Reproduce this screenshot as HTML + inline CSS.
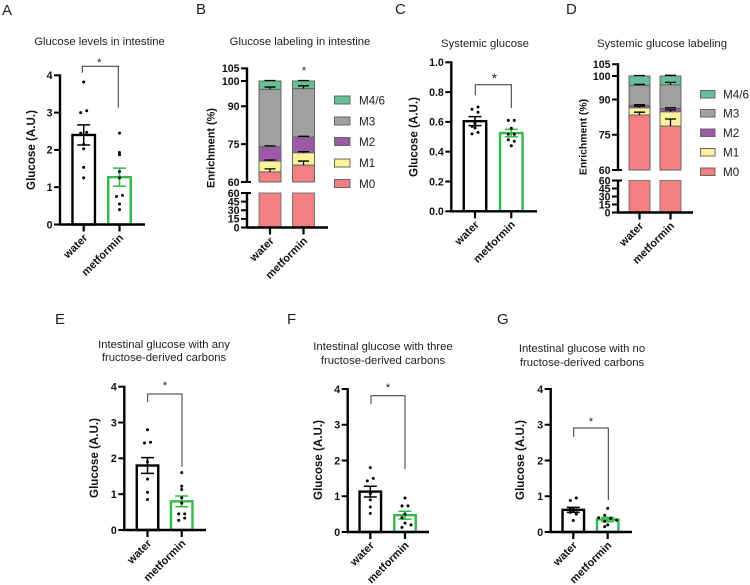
<!DOCTYPE html>
<html>
<head>
<meta charset="utf-8">
<title>Glucose figure</title>
<style>
html,body{margin:0;padding:0;background:#fff;width:750px;height:585px;overflow:hidden}
svg{display:block}
text{font-family:"Liberation Sans",sans-serif}
.letter{font-size:15px;fill:#222}
.title{font-size:11.3px;fill:#222;text-anchor:middle}
.axt{font-size:11.6px;font-weight:bold;fill:#111;text-anchor:middle}
.leg{font-size:11.7px;fill:#222}
</style>
</head>
<body>
<svg id="fig" width="750" height="585" viewBox="0 0 750 585" xmlns="http://www.w3.org/2000/svg">
<text class="letter" x="2" y="15">A</text>
<text class="letter" x="196" y="14">B</text>
<text class="letter" x="395" y="14">C</text>
<text class="letter" x="566" y="14">D</text>
<text class="letter" x="55" y="324">E</text>
<text class="letter" x="287" y="324">F</text>
<text class="letter" x="497" y="324">G</text>

<text class="title" x="99.5" y="45">Glucose levels in intestine</text>
<text class="title" x="300" y="45">Glucose labeling in intestine</text>
<text class="title" x="485" y="47">Systemic glucose</text>
<text class="title" x="662" y="47">Systemic glucose labeling</text>
<text class="title" x="164" y="348">Intestinal glucose with any</text>
<text class="title" x="164" y="361">fructose-derived carbons</text>
<text class="title" x="383" y="350">Intestinal glucose with three</text>
<text class="title" x="383" y="364">fructose-derived carbons</text>
<text class="title" x="582" y="352">Intestinal glucose with no</text>
<text class="title" x="582" y="366">fructose-derived carbons</text>

<text class="axt" transform="translate(35,150) rotate(-90)">Glucose (A.U.)</text>
<text class="axt" style="font-size:10.9px" transform="translate(214.5,148) rotate(-90)">Enrichment (%)</text>
<text class="axt" transform="translate(417.5,137) rotate(-90)">Glucose (A.U.)</text>
<text class="axt" style="font-size:10.4px" transform="translate(586.5,137) rotate(-90)">Enrichment (%)</text>
<text class="axt" transform="translate(98,458) rotate(-90)">Glucose (A.U.)</text>
<text class="axt" transform="translate(322,460) rotate(-90)">Glucose (A.U.)</text>
<text class="axt" transform="translate(524,460) rotate(-90)">Glucose (A.U.)</text>

<g>
<rect x="334.5" y="96" width="15.5" height="8" fill="#66c096" stroke="#666"/>
<text class="leg" x="359" y="104.5">M4/6</text>
<rect x="334.5" y="117" width="15.5" height="8" fill="#a0a0a0" stroke="#666"/>
<text class="leg" x="359" y="125.5">M3</text>
<rect x="334.5" y="137.5" width="15.5" height="8" fill="#9b59a6" stroke="#666"/>
<text class="leg" x="359" y="146">M2</text>
<rect x="334.5" y="159" width="15.5" height="8" fill="#fbf39b" stroke="#666"/>
<text class="leg" x="359" y="167">M1</text>
<rect x="334.5" y="179.5" width="15.5" height="8" fill="#f47f83" stroke="#666"/>
<text class="leg" x="359" y="188">M0</text>
</g>
<g>
<rect x="700.5" y="90.5" width="14.5" height="7.5" fill="#66c096" stroke="#666"/>
<text class="leg" x="723" y="98.5">M4/6</text>
<rect x="700.5" y="109.5" width="14.5" height="7.5" fill="#a0a0a0" stroke="#666"/>
<text class="leg" x="723" y="117.5">M3</text>
<rect x="700.5" y="129" width="14.5" height="7.5" fill="#9b59a6" stroke="#666"/>
<text class="leg" x="723" y="137">M2</text>
<rect x="700.5" y="148.5" width="14.5" height="7.5" fill="#fbf39b" stroke="#666"/>
<text class="leg" x="723" y="156.5">M1</text>
<rect x="700.5" y="168" width="14.5" height="7.5" fill="#f47f83" stroke="#666"/>
<text class="leg" x="723" y="176">M0</text>
</g>
</svg>
<script>
const categories = ['water', 'metformin'];
const seriesColors = ['#f47f83', '#fbf39b', '#9b59a6', '#a0a0a0', '#66c096'];

const ticksFour = [0, 1, 2, 3, 4];
const ticksOne = ['0.0', '0.2', '0.4', '0.6', '0.8', '1.0'];
const ticksUpper = [60, 75, 90, 100, 105];
const ticksLower = [0, 15, 30, 45, 60];

const aMeans = [2.4, 1.27];
const aSems = [0.27, 0.24];
const aWater = [3.82, 3.0, 3.05, 2.45, 2.47, 2.15, 2.03, 1.53, 1.25];
const aWaterSlots = [0, -1, 1, -1, 1, 0, 0, 0, 0];
const aMet = [2.45, 1.93, 1.87, 1.42, 1.25, 0.78, 0.75, 0.55, 0.4];
const aMetSlots = [0, 0, 0, 0, 0, 1, -1, 0, 0];

const cMeans = [0.605, 0.525];
const cSems = [0.03, 0.025];
const cWater = [0.685, 0.7, 0.665, 0.59, 0.57, 0.56, 0.53, 0.52];
const cWaterSlots = [-1, 1, 1, 0, -1, 0, 1, -1];
const cMet = [0.61, 0.61, 0.557, 0.517, 0.517, 0.48, 0.47, 0.44];
const cMetSlots = [-1, 1, 0, -1, 1, -1, 1, 0];

const eMeans = [1.8, 0.8];
const eSems = [0.22, 0.15];
const eWater = [2.8, 2.43, 2.45, 1.9, 1.42, 1.05, 0.85];
const eWaterSlots = [0, -1, 1, 0, 0, 0, 0];
const eMet = [1.6, 1.22, 1.13, 0.9, 0.75, 0.45, 0.45, 0.33, 0.27];
const eMetSlots = [0, 0, 0, 0, 0, -1, 1, 1, -1];

const fMeans = [1.13, 0.47];
const fSems = [0.15, 0.11];
const fWater = [1.8, 1.5, 1.43, 1.07, 0.9, 0.7, 0.52];
const fWaterSlots = [0, 1, -1, 0, 0, 0, 0];
const fMet = [0.95, 0.73, 0.73, 0.5, 0.4, 0.25, 0.2, 0.13];
const fMetSlots = [0, -1, 1, 0, -1, 0, 2, -1];

const gMeans = [0.62, 0.35];
const gSems = [0.07, 0.06];
const gWater = [0.95, 0.88, 0.65, 0.62, 0.6, 0.55, 0.5, 0.32];
const gWaterSlots = [1, -1, -1, 1, 0, -1, 1, 0];
const gMet = [0.66, 0.47, 0.4, 0.38, 0.33, 0.3, 0.2, 0.15];
const gMetSlots = [0, -1, -3, 1, 3, -1, 0, -1];

const bWaterSegments = [64, 4.3, 5.7, 22.7, 3.3];
const bWaterErrors = [1.2, 0.4, 0.3, 0.9, 0.2];
const bMetSegments = [66.7, 4.9, 6.2, 19.2, 3];
const bMetErrors = [1.6, 0.4, 0.3, 1.1, 0.2];

const dWaterSegments = [83.4, 3.1, 1, 8.5, 4];
const dWaterErrors = [1.2, 0.7, 0.3, 0.4, 0.2];
const dMetSegments = [78.7, 6.1, 1.4, 10, 3.8];
const dMetErrors = [3, 0.8, 0.3, 1.1, 0.3];

const svg = document.getElementById('fig');
const NS = 'http://www.w3.org/2000/svg';

function mk(parent, tag, attrs, txt) {
  const el = document.createElementNS(NS, tag);
  for (const k in attrs) el.setAttribute(k, attrs[k]);
  if (txt !== undefined) el.textContent = txt;
  parent.appendChild(el);
  return el;
}
function line(parent, x1, y1, x2, y2, stroke, w) {
  return mk(parent, 'line', { x1, y1, x2, y2, stroke, 'stroke-width': w });
}
function xAxis(g, ax, y0, xEnd, centers) {
  const axis = line(g, ax - 1, y0, xEnd, y0, '#000', 2.4);
  
  
  categories.forEach((c, i) => {
    const tick = line(g, centers[i], y0, centers[i], y0 + 7, '#000', 2.2);
    
    
    const lx = centers[i] + 4.5, ly = y0 + 14;
    const t = mk(g, 'text', {
      x: lx, y: ly, 'text-anchor': 'end', 'font-size': 11, 'font-weight': 'bold', fill: '#111',
      transform: 'rotate(-45 ' + lx + ' ' + ly + ')'
    }, c);
    
    
  });
}
function yTick(g, ax, y, label, right) {
  const tick = line(g, ax - 6, y, right ? ax + right : ax, y, '#000', 2);
  
  
  const t = mk(g, 'text', {
    x: ax - 7.5, y: y + 3.8, 'text-anchor': 'end', 'font-size': 10.6, 'font-weight': 'bold', fill: '#111'
  }, label);
  
  
}
function bracket(g, b) {
  const p = mk(g, 'path', {
    d: 'M' + b.l + ' ' + b.lb + 'V' + b.top + 'H' + b.r + 'V' + b.rb,
    fill: 'none', stroke: '#333', 'stroke-width': 1
  });
  
  
  const s = mk(g, 'text', { x: b.sx, y: b.sy + (b.big ? 6 : 4), 'text-anchor': 'middle', 'font-size': b.big ? 14 : 11, fill: '#222' }, '*');
  
  
}
function barPanel(cfg) {
  const g = mk(svg, 'g', {});
  
  
  const maxV = cfg.max;
  const y = v => cfg.y0 + (cfg.yTop - cfg.y0) * v / maxV;
  const colors = ['#000', '#33b84a'];
  categories.forEach((c, i) => {
    const cx = cfg.centers[i];
    const bar = mk(g, 'rect', {
      x: cx - cfg.barW / 2, y: y(cfg.means[i]), width: cfg.barW, height: cfg.y0 - y(cfg.means[i]),
      fill: '#fff', stroke: colors[i], 'stroke-width': 2.4
    });
    
    
  });
  categories.forEach((c, i) => {
    const cx = cfg.centers[i];
    const top = cfg.means[i] + cfg.sems[i], bot = cfg.means[i] - cfg.sems[i];
    const eb = mk(g, 'path', {
      d: 'M' + (cx - 6.5) + ' ' + y(top) + 'H' + (cx + 6.5) + 'M' + cx + ' ' + y(top) + 'V' + y(bot) +
         'M' + (cx - 6.5) + ' ' + y(bot) + 'H' + (cx + 6.5),
      fill: 'none', stroke: colors[i], 'stroke-width': 1.5
    });
    
    
    const pts = cfg.points[i], slots = cfg.slots[i];
    pts.forEach((v, j) => {
      const dot = mk(g, 'circle', { cx: cx + slots[j] * 3, cy: y(v), r: 1.5, fill: '#000' });
      
      
    });
  });
  const yax = line(g, cfg.ax, y(maxV) - 1, cfg.ax, cfg.y0 + 1, '#000', 2.4);
  
  
  cfg.ticks.forEach(t => yTick(g, cfg.ax, y(+t), String(t)));
  xAxis(g, cfg.ax, cfg.y0, cfg.xEnd, cfg.centers);
  if (cfg.bracket) bracket(g, cfg.bracket);
}
function stackPanel(cfg) {
  const g = mk(svg, 'g', {});
  
  
  const yUp = v => cfg.up60 + (cfg.up100 - cfg.up60) * (v - 60) / 40;
  const yLow = v => cfg.y0 + (cfg.low60 - cfg.y0) * v / 60;
  cfg.centers.forEach((cx, i) => {
    const segs = cfg.segments[i], errs = cfg.errors[i];
    const x = cx - cfg.barW / 2;
    const low = mk(g, 'rect', {
      x, y: cfg.low60, width: cfg.barW, height: cfg.y0 - cfg.low60,
      fill: seriesColors[0], stroke: '#777', 'stroke-width': 1
    });
    
    
    let base = 60, cum = 0;
    segs.forEach((s, k) => {
      cum += s;
      const seg = mk(g, 'rect', {
        x, y: yUp(cum), width: cfg.barW, height: yUp(base) - yUp(cum),
        fill: seriesColors[k], stroke: '#666', 'stroke-width': 1
      });
      
      
      base = cum;
    });
    cum = 0;
    segs.forEach((s, k) => {
      cum += s;
      const capY = yUp(cum + errs[k]);
      const eb = mk(g, 'path', {
        d: 'M' + cx + ' ' + yUp(cum) + 'V' + capY + 'M' + (cx - 5.5) + ' ' + capY + 'H' + (cx + 5.5),
        fill: 'none', stroke: '#000', 'stroke-width': 1.3
      });
      
      
    });
  });
  const upper = line(g, cfg.ax, yUp(105) - 1, cfg.ax, yUp(60) + 1, '#000', 2.4);
  
  
  const lower = line(g, cfg.ax, yLow(60) - 1, cfg.ax, cfg.y0 + 1, '#000', 2.4);
  
  
  ticksUpper.forEach(t => yTick(g, cfg.ax, yUp(t), String(t), t === 60 ? 4 : 0));
  ticksLower.forEach(t => yTick(g, cfg.ax, yLow(t), String(t), t === 60 ? 4 : 0));
  xAxis(g, cfg.ax, cfg.y0, cfg.xEnd, cfg.centers);
  if (cfg.star) {
    const s = mk(g, 'text', { x: cfg.star[0], y: cfg.star[1] + 4, 'text-anchor': 'middle', 'font-size': 11, fill: '#222' }, '*');
    
    
  }
}

barPanel({
  name: 'panel-a-chart', ax: 60, y0: 224.5, yTop: 75.3, max: 4, xEnd: 145, centers: [83.7, 119.5], barW: 22.5,
  means: aMeans, sems: aSems, points: [aWater, aMet], slots: [aWaterSlots, aMetSlots], ticks: ticksFour,
  bracket: { l: 82.3, r: 118.3, top: 66.3, lb: 72.7, rb: 107.7, sx: 99.3, sy: 62 }
});
barPanel({
  name: 'panel-c-chart', ax: 451.3, y0: 211.3, yTop: 62.3, max: 1, xEnd: 537, centers: [475, 511.3], barW: 22.5,
  means: cMeans, sems: cSems, points: [cWater, cMet], slots: [cWaterSlots, cMetSlots], ticks: ticksOne,
  bracket: { l: 475.3, r: 511.3, top: 84.7, lb: 95, rb: 108, sx: 494.3, sy: 77, big: true }
});
barPanel({
  name: 'panel-e-chart', ax: 124.3, y0: 530, yTop: 386.7, max: 4, xEnd: 206, centers: [147.5, 181.7], barW: 21.5,
  means: eMeans, sems: eSems, points: [eWater, eMet], slots: [eWaterSlots, eMetSlots], ticks: ticksFour,
  bracket: { l: 147.7, r: 182, top: 394, lb: 402, rb: 466.7, sx: 165, sy: 385 }
});
barPanel({
  name: 'panel-f-chart', ax: 347.7, y0: 532, yTop: 389, max: 4, xEnd: 429, centers: [370.3, 405], barW: 21.5,
  means: fMeans, sems: fSems, points: [fWater, fMet], slots: [fWaterSlots, fMetSlots], ticks: ticksFour,
  bracket: { l: 371, r: 405, top: 395.7, lb: 404, rb: 469, sx: 388, sy: 387 }
});
barPanel({
  name: 'panel-g-chart', ax: 550.7, y0: 532, yTop: 389, max: 4, xEnd: 632, centers: [573.3, 607.7], barW: 21.5,
  means: gMeans, sems: gSems, points: [gWater, gMet], slots: [gWaterSlots, gMetSlots], ticks: ticksFour,
  bracket: { l: 573.7, r: 608.3, top: 428, lb: 437, rb: 500, sx: 591, sy: 421 }
});
stackPanel({
  name: 'panel-b-chart', ax: 247, y0: 227.5, low60: 193, up60: 182, up100: 81, xEnd: 328, centers: [270, 303.5], barW: 22,
  segments: [bWaterSegments, bMetSegments], errors: [bWaterErrors, bMetErrors], star: [304, 70]
});
stackPanel({
  name: 'panel-d-chart', ax: 618, y0: 212.5, low60: 180.5, up60: 170, up100: 76, xEnd: 693, centers: [639.5, 670.5], barW: 21,
  segments: [dWaterSegments, dMetSegments], errors: [dWaterErrors, dMetErrors]
});
</script>
</body>
</html>
